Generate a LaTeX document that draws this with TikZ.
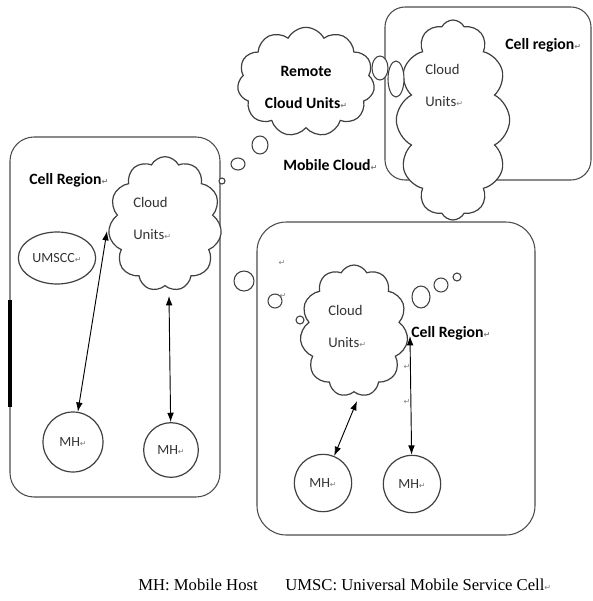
\documentclass[tikz,border=0pt]{standalone}
\usepackage{fontspec}
\setmainfont{Carlito}
\newfontfamily\legendfont{Liberation Serif}
\newfontfamily\markfont{DejaVu Sans}
\usetikzlibrary{shapes.symbols,shapes.geometric,arrows.meta}

% paragraph mark left behind by the word processor
\newcommand{\pmark}{{\markfont\color{black!50}\fontsize{6}{6}\selectfont ↵}}

\tikzset{
  cellbox/.style={draw=black!70, line width=0.8pt, rounded corners=18pt},
  puff/.style={draw=black!75, line width=0.9pt, fill=white, cloud, cloud puffs=#1, cloud puff arc=125, cloud ignores aspect, inner sep=0pt},
  bubble/.style={draw=black!75, line width=0.8pt, fill=white},
  host/.style={draw=black!75, line width=0.9pt, fill=white, circle, inner sep=0pt, font=\fontsize{10.5}{12}\selectfont, text=black!80},
  link/.style={{Latex[length=7pt,width=5pt]}-{Latex[length=7pt,width=5pt]}, line width=0.7pt},
  plain/.style={font=\fontsize{11}{24}\selectfont, align=left, text=black!80, inner sep=0pt},
  tag/.style={font=\bfseries\fontsize{11.8}{24}\selectfont, inner sep=0pt}
}

\begin{document}
\begin{tikzpicture}[x=0.75pt,y=0.75pt,yscale=-1,xscale=1]
\useasboundingbox (0,0) rectangle (593,601);

%Rounded Rect: left cell
\draw [cellbox] (10,137) rectangle (220,497) ;
\draw [line width=2.4pt] (10,300) -- (10,407) ;
%Rounded Rect: upper right cell
\draw [cellbox, rounded corners=15pt] (385,7) rectangle (591,180) ;
%Rounded Rect: lower right cell
\draw [cellbox, rounded corners=22pt] (257,222) rectangle (535,535) ;

%Clouds
\node [puff=11, minimum width=85pt, minimum height=101pt] (cloudL) at (165,224) {};
\node [puff=12, minimum width=85pt, minimum height=150pt] (cloudR) at (453,120) {};
\node [puff=11, minimum width=103pt, minimum height=82pt] (remote) at (306,82) {};
\node [puff=11, minimum width=81pt, minimum height=99pt] (cloudB) at (354,331) {};

%Bubbles
\draw [bubble] (380,68) ellipse (8 and 12) ;
\draw [bubble] (396,79) ellipse (8 and 18) ;
\draw [bubble] (260,145) ellipse (8 and 9) ;
\draw [bubble] (238,164) ellipse (7 and 6) ;
\draw [bubble] (222,181) circle (3) ;
\draw [bubble] (244,281) circle (10) ;
\draw [bubble] (275,301) circle (7) ;
\draw [bubble] (300,320) circle (4) ;
\draw [bubble] (421,297) ellipse (9 and 11) ;
\draw [bubble] (441,285) circle (7) ;
\draw [bubble] (457,277) circle (4) ;

%UMSCC and hosts
\node [host, ellipse, minimum width=58pt, minimum height=39pt] (umscc) at (57,258) {UMSCC\pmark};
\node [host, minimum size=45pt] (mhA) at (73,442) {MH\pmark};
\node [host, minimum size=41pt] (mhB) at (171,450) {MH\pmark};
\node [host, minimum size=43pt] (mhC) at (323,483) {MH\pmark};
\node [host, minimum size=43pt] (mhD) at (412,484) {MH\pmark};

%Straight Lines
\coordinate (tipA) at (107,231);
\coordinate (tipB) at (169,296);
\coordinate (tipC) at (357,401);
\coordinate (tipD) at (410,336);
\draw [link] (tipA) -- (mhA) ;
\draw [link] (tipB) -- (mhB) ;
\draw [link] (tipC) -- (mhC) ;
\draw [link] (tipD) -- (mhD) ;

% Text Node
\node [tag, anchor=west] (cellL) at (29,180) {Cell Region\pmark};
% Text Node
\node [plain, anchor=north west] (txtL) at (133,197) {Cloud\\Units\pmark};
% Text Node
\node [tag, align=center] (txtRemote) at (306,87) {Remote\\Cloud Units\pmark};
% Text Node
\node [plain, anchor=north west] (txtR) at (425,64) {Cloud\\Units\pmark};
% Text Node
\node [tag, anchor=west] (cellR) at (505,45) {Cell region\pmark};
% Text Node
\node [tag, anchor=west] (mobile) at (283,165) {Mobile Cloud\pmark};
% Text Node
\node [plain, anchor=north west] (txtB) at (328,305) {Cloud\\Units\pmark};
% Text Node
\node [tag, anchor=west] (cellB) at (411,333) {Cell Region\pmark};
% stray marks
\node (m1) at (282,263) {\pmark};
\node (m2) at (283,296) {\pmark};
\node (m3) at (407,367) {\pmark};
\node (m4) at (407,402) {\pmark};

% Legend
\node [anchor=west, inner sep=0pt, font=\legendfont\fontsize{12.5}{14}\selectfont] (legMH) at (138,585) {MH: Mobile Host};
\node [anchor=west, inner sep=0pt, font=\legendfont\fontsize{12.5}{14}\selectfont] (legUM) at (285,585) {UMSC: Universal Mobile Service Cell\pmark};

\end{tikzpicture}
\end{document}
